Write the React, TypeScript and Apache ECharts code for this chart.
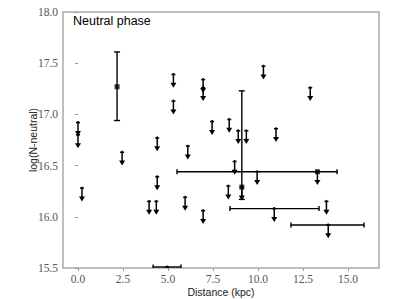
import React, { useEffect, useRef } from "react";
import * as echarts from "echarts";

// Upper limits (value, arrow pointing down)
const limDist = [0.0, 0.0, 0.22, 2.45, 4.4, 4.4, 3.95, 4.35, 5.3, 5.3, 5.95, 6.1, 6.95, 6.95, 6.95, 7.45, 8.4, 8.35, 8.7, 8.9, 9.35, 9.95, 10.3, 11.0, 12.9, 13.8, 9.1, 13.3, 10.9, 13.9, 4.95];
const limLogN = [16.92, 16.8, 16.28, 16.63, 16.77, 16.39, 16.15, 16.15, 17.39, 17.13, 16.19, 16.69, 17.34, 17.26, 16.06, 16.93, 16.95, 16.3, 16.54, 16.84, 16.84, 16.44, 17.47, 16.86, 17.26, 16.15, 16.29, 16.44, 16.08, 15.92, 15.51];

// Horizontal (distance) error bars
const xbarLogN = [16.44, 16.08, 15.92, 15.51];
const xbarLo = [5.5, 8.44, 11.83, 4.17];
const xbarHi = [14.39, 13.39, 15.89, 5.72];

// Vertical (column density) error bars
const ybarDist = [2.17, 9.1];
const ybarLo = [16.94, 16.17];
const ybarHi = [17.61, 17.23];

// Detections (square markers)
const detDist = [2.17, 9.1, 13.3];
const detLogN = [17.27, 16.29, 16.44];

const xTicks = [0, 2.5, 5, 7.5, 10, 12.5, 15];

const ARROW = 0.13;

export default function App() {
  const ref = useRef<HTMLDivElement>(null);
  useEffect(() => {
    if (!ref.current) return;
    const chart = echarts.init(ref.current, undefined, { renderer: "svg" });
    const black = "#000";
    const option: any = {
      animation: false,
      title: {
        text: "Neutral phase",
        left: 73,
        top: 14,
        padding: 0,
        textStyle: { fontSize: 12.5, fontWeight: "normal", fontFamily: "Liberation Sans", color: "#000" },
      },
      grid: {
        left: 63,
        right: 20,
        top: 12,
        bottom: 31,
        show: true,
        borderColor: "#aaa",
        borderWidth: 1.5,
        backgroundColor: "transparent",
        containLabel: false,
        outerBoundsMode: "none",
      },
      xAxis: {
        type: "value",
        min: -0.833,
        max: 16.72,
        name: "Distance (kpc)",
        nameLocation: "middle",
        nameGap: 18,
        nameMoveOverlap: false,
        nameTextStyle: { fontSize: 10.5, fontFamily: "Liberation Sans", color: "#222" },
        axisLine: { show: false },
        splitLine: { show: false },
        axisTick: { show: true, length: 3, customValues: xTicks, lineStyle: { color: "#999" } },
        axisLabel: {
          customValues: xTicks,
          formatter: (v: number) => v.toFixed(1),
          fontSize: 11.5,
          fontFamily: "Liberation Serif",
          color: "#555",
          margin: 5,
        },
      },
      yAxis: {
        type: "value",
        min: 15.5,
        max: 18.0,
        interval: 0.5,
        name: "log(N-neutral)",
        nameLocation: "middle",
        nameRotate: 90,
        nameGap: 25,
        nameMoveOverlap: false,
        nameTextStyle: { fontSize: 10.5, fontFamily: "Liberation Sans", color: "#222" },
        axisLine: { show: false },
        splitLine: { show: false },
        axisTick: { show: true, length: 3, lineStyle: { color: "#999" } },
        axisLabel: {
          formatter: (v: number) => v.toFixed(1),
          fontSize: 11.5,
          fontFamily: "Liberation Serif",
          color: "#555",
          margin: 5,
        },
      },
      series: [
        {
          type: "custom",
          clip: true,
          data: xbarLogN.map((y, i) => [xbarLo[i], xbarHi[i], y]),
          encode: { x: [0, 1], y: 2 },
          renderItem: (params: any, api: any) => {
            const a = api.coord([api.value(0), api.value(2)]);
            const b = api.coord([api.value(1), api.value(2)]);
            const st = { stroke: black, lineWidth: 1.4 };
            return {
              type: "group",
              children: [
                { type: "line", shape: { x1: a[0], y1: a[1], x2: b[0], y2: b[1] }, style: st },
                { type: "line", shape: { x1: a[0], y1: a[1] - 2.5, x2: a[0], y2: a[1] + 2.5 }, style: st },
                { type: "line", shape: { x1: b[0], y1: b[1] - 2.5, x2: b[0], y2: b[1] + 2.5 }, style: st },
              ],
            };
          },
        },
        {
          type: "custom",
          clip: true,
          data: ybarDist.map((x, i) => [x, ybarLo[i], ybarHi[i]]),
          encode: { x: 0, y: [1, 2] },
          renderItem: (params: any, api: any) => {
            const a = api.coord([api.value(0), api.value(1)]);
            const b = api.coord([api.value(0), api.value(2)]);
            const st = { stroke: black, lineWidth: 1.4 };
            return {
              type: "group",
              children: [
                { type: "line", shape: { x1: a[0], y1: a[1], x2: b[0], y2: b[1] }, style: st },
                { type: "line", shape: { x1: a[0] - 3, y1: a[1], x2: a[0] + 3, y2: a[1] }, style: st },
                { type: "line", shape: { x1: b[0] - 3, y1: b[1], x2: b[0] + 3, y2: b[1] }, style: st },
              ],
            };
          },
        },
        {
          type: "custom",
          clip: true,
          data: limDist.map((x, i) => [x, limLogN[i]]),
          encode: { x: 0, y: 1 },
          renderItem: (params: any, api: any) => {
            const x = api.value(0);
            const y = api.value(1);
            const t = api.coord([x, y]);
            const b = api.coord([x, y - ARROW]);
            const st = { stroke: black, lineWidth: 1.5 };
            return {
              type: "group",
              children: [
                { type: "line", shape: { x1: t[0] - 2, y1: t[1], x2: t[0] + 2, y2: t[1] }, style: st },
                { type: "line", shape: { x1: t[0], y1: t[1] - 1.5, x2: t[0], y2: b[1] - 3 }, style: st },
                {
                  type: "polygon",
                  shape: { points: [[b[0] - 3, b[1] - 5], [b[0] + 3, b[1] - 5], [b[0], b[1]]] },
                  style: { fill: black },
                },
              ],
            };
          },
        },
        {
          type: "scatter",
          symbol: "rect",
          symbolSize: 5,
          itemStyle: { color: black },
          data: detDist.map((x, i) => [x, detLogN[i]]),
        },
      ],
    };
    chart.setOption(option);
    return () => chart.dispose();
  }, []);
  return (
    <div
      ref={ref}
      style={{ position: "fixed", left: 0, top: 0, width: 399, height: 299, background: "#fff" }}
    />
  );
}
